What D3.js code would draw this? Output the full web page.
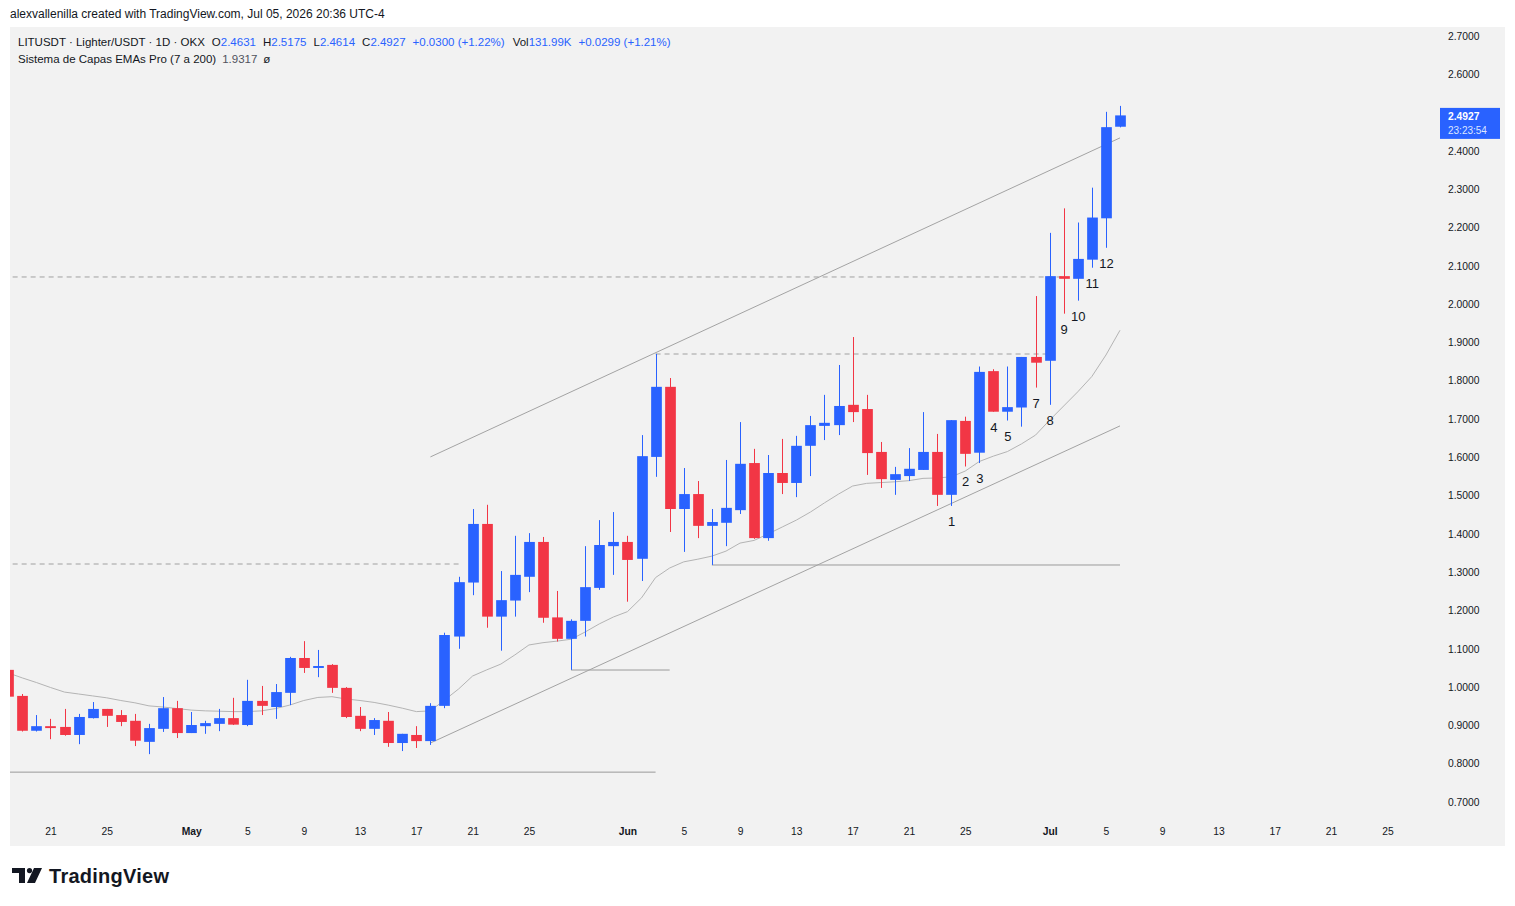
<!DOCTYPE html>
<html>

<head>
    <title>LITUSDT 1D</title>
    <script src="https://d3js.org/d3.v7.min.js"></script>
    <style>
        body { margin: 0; background: #ffffff; }
        text { font-family: 'Liberation Sans', Arial, sans-serif; }
    </style>
</head>

<body>
    <svg width="1515" height="906" id="mainsvg"></svg>
    <script>
        // daily candles, Apr 18 .. Jul 6 2026
        const dates = [
            '2026-04-18', '2026-04-19', '2026-04-20', '2026-04-21', '2026-04-22', '2026-04-23', '2026-04-24',
            '2026-04-25', '2026-04-26', '2026-04-27', '2026-04-28', '2026-04-29', '2026-04-30',
            '2026-05-01', '2026-05-02', '2026-05-03', '2026-05-04', '2026-05-05', '2026-05-06', '2026-05-07',
            '2026-05-08', '2026-05-09', '2026-05-10', '2026-05-11', '2026-05-12', '2026-05-13', '2026-05-14',
            '2026-05-15', '2026-05-16', '2026-05-17', '2026-05-18', '2026-05-19', '2026-05-20', '2026-05-21',
            '2026-05-22', '2026-05-23', '2026-05-24', '2026-05-25', '2026-05-26', '2026-05-27', '2026-05-28',
            '2026-05-29', '2026-05-30', '2026-05-31',
            '2026-06-01', '2026-06-02', '2026-06-03', '2026-06-04', '2026-06-05', '2026-06-06', '2026-06-07',
            '2026-06-08', '2026-06-09', '2026-06-10', '2026-06-11', '2026-06-12', '2026-06-13', '2026-06-14',
            '2026-06-15', '2026-06-16', '2026-06-17', '2026-06-18', '2026-06-19', '2026-06-20', '2026-06-21',
            '2026-06-22', '2026-06-23', '2026-06-24', '2026-06-25', '2026-06-26', '2026-06-27', '2026-06-28',
            '2026-06-29', '2026-06-30',
            '2026-07-01', '2026-07-02', '2026-07-03', '2026-07-04', '2026-07-05', '2026-07-06'
        ];
        const open = [
            1.045, 0.977, 0.886, 0.898, 0.896, 0.875, 0.919, 0.943, 0.927, 0.912, 0.857, 0.891, 0.945,
            0.880, 0.898, 0.904, 0.919, 0.901, 0.964, 0.948, 0.985, 1.076, 1.050, 1.058, 0.998, 0.925, 0.891,
            0.912, 0.854, 0.875, 0.859, 0.951, 1.132, 1.273, 1.426, 1.184, 1.226, 1.288, 1.379, 1.182, 1.126,
            1.173, 1.259, 1.368,
            1.379, 1.335, 1.601, 1.784, 1.465, 1.504, 1.421, 1.429, 1.462, 1.585, 1.389, 1.559, 1.533, 1.630,
            1.682, 1.684, 1.737, 1.726, 1.614, 1.541, 1.551, 1.567, 1.614, 1.502, 1.695, 1.612, 1.825, 1.719,
            1.730, 1.862,
            1.852, 2.073, 2.066, 2.116, 2.224, 2.4631
        ];
        const high = [
            1.060, 0.982, 0.927, 0.917, 0.943, 0.930, 0.961, 0.943, 0.940, 0.930, 0.904, 0.974, 0.964,
            0.935, 0.912, 0.943, 0.972, 1.019, 1.003, 1.008, 1.079, 1.120, 1.097, 1.060, 1.000, 0.948, 0.919,
            0.935, 0.878, 0.898, 0.958, 1.142, 1.288, 1.465, 1.476, 1.303, 1.395, 1.402, 1.392, 1.251, 1.177,
            1.368, 1.436, 1.457,
            1.395, 1.658, 1.870, 1.807, 1.572, 1.538, 1.465, 1.593, 1.692, 1.622, 1.606, 1.648, 1.656, 1.708,
            1.763, 1.841, 1.914, 1.763, 1.640, 1.575, 1.624, 1.718, 1.661, 1.697, 1.706, 1.837, 1.830, 1.837,
            1.862, 2.021,
            2.186, 2.250, 2.213, 2.304, 2.502, 2.5175
        ];
        const low = [
            0.960, 0.884, 0.884, 0.864, 0.873, 0.851, 0.918, 0.896, 0.898, 0.846, 0.825, 0.883, 0.867,
            0.880, 0.878, 0.885, 0.901, 0.898, 0.927, 0.917, 0.953, 1.037, 1.026, 0.985, 0.919, 0.885, 0.875,
            0.844, 0.833, 0.841, 0.849, 0.945, 1.100, 1.240, 1.155, 1.095, 1.184, 1.248, 1.168, 1.119, 1.045,
            1.132, 1.254, 1.293,
            1.223, 1.277, 1.549, 1.405, 1.353, 1.389, 1.319, 1.368, 1.452, 1.387, 1.382, 1.504, 1.496, 1.551,
            1.645, 1.658, 1.692, 1.554, 1.520, 1.502, 1.538, 1.567, 1.473, 1.473, 1.576, 1.585, 1.719, 1.696,
            1.680, 1.782,
            1.737, 1.975, 2.009, 2.095, 2.147, 2.4614
        ];
        const close = [
            0.975, 0.886, 0.898, 0.893, 0.875, 0.922, 0.943, 0.925, 0.909, 0.860, 0.893, 0.945, 0.880,
            0.901, 0.906, 0.919, 0.902, 0.964, 0.951, 0.987, 1.076, 1.050, 1.055, 0.998, 0.922, 0.891, 0.914,
            0.854, 0.878, 0.859, 0.951, 1.136, 1.274, 1.426, 1.184, 1.227, 1.293, 1.379, 1.181, 1.126, 1.173,
            1.261, 1.371, 1.379,
            1.332, 1.603, 1.784, 1.465, 1.504, 1.421, 1.431, 1.468, 1.583, 1.389, 1.559, 1.533, 1.630, 1.684,
            1.690, 1.734, 1.718, 1.611, 1.543, 1.556, 1.570, 1.614, 1.502, 1.697, 1.609, 1.823, 1.719, 1.731,
            1.862, 1.847,
            2.073, 2.066, 2.118, 2.226, 2.462, 2.4927
        ];
        // "Sistema de Capas EMAs Pro" line
        const ema = [
            1.037, 1.024, 1.012, 0.999, 0.987, 0.982, 0.977, 0.972, 0.965, 0.959, 0.951, 0.948, 0.944,
            0.940, 0.938, 0.937, 0.936, 0.936, 0.938, 0.944, 0.953, 0.965, 0.973, 0.975, 0.969, 0.965, 0.960,
            0.953, 0.945, 0.936, 0.938, 0.966, 0.995, 1.029, 1.045, 1.060, 1.084, 1.110, 1.116, 1.120, 1.125,
            1.144, 1.165, 1.183,
            1.197, 1.233, 1.286, 1.311, 1.327, 1.334, 1.342, 1.355, 1.376, 1.383, 1.400, 1.418, 1.436, 1.457,
            1.481, 1.504, 1.525, 1.532, 1.534, 1.536, 1.539, 1.545, 1.546, 1.549, 1.564, 1.589, 1.603, 1.615,
            1.635, 1.658,
            1.697, 1.734, 1.771, 1.811, 1.867, 1.9317
        ];

        // drawings
        const channelUpper = [['2026-05-18', 1.601], ['2026-07-06', 2.434]];
        const channelLower = [['2026-05-18', 0.854], ['2026-07-06', 1.682]];
        const solidLevels = [
            { from: '2026-04-10', to: '2026-06-03', price: 0.778 },
            { from: '2026-05-28', to: '2026-06-04', price: 1.0446 },
            { from: '2026-06-07', to: '2026-07-06', price: 1.3188 }
        ];
        const dashedLevels = [
            { from: '2026-04-10', to: '2026-05-20', price: 1.3214 },
            { from: '2026-06-03', to: '2026-07-01', price: 1.8697 },
            { from: '2026-04-10', to: '2026-07-02', price: 2.0708 }
        ];
        const waveLabels = ['1', '2', '3', '4', '5', '7', '8', '9', '10', '11', '12'];
        const waveDates = ['2026-06-24', '2026-06-25', '2026-06-26', '2026-06-27', '2026-06-28', '2026-06-30',
            '2026-07-01', '2026-07-02', '2026-07-03', '2026-07-04', '2026-07-05'];

        const timeTicks = ['2026-04-21', '2026-04-25', '2026-05-01', '2026-05-05', '2026-05-09', '2026-05-13',
            '2026-05-17', '2026-05-21', '2026-05-25', '2026-06-01', '2026-06-05', '2026-06-09', '2026-06-13',
            '2026-06-17', '2026-06-21', '2026-06-25', '2026-07-01', '2026-07-05', '2026-07-09', '2026-07-13',
            '2026-07-17', '2026-07-21', '2026-07-25'];

        const lastPrice = 2.4927, countdown = '23:23:54';

        const blue = '#2962ff', red = '#f23645', ink = '#131722';
        const parse = d3.utcParse('%Y-%m-%d');

        let svg = d3.select('#mainsvg');
        const panel = { left: 10, top: 27, right: 1505, bottom: 846 };
        const plot = { left: 10, right: 1425, top: 27, bottom: 815 };

        const x = d3.scaleUtc()
            .domain([parse('2026-04-19'), parse('2026-07-06')])
            .range([22.3, 1120]);
        const y = d3.scaleLinear()
            .domain([0.7, 2.7])
            .range([802, 36]);
        const step = x(parse('2026-04-20')) - x(parse('2026-04-19'));
        const bodyW = step * 0.76;

        const candles = dates.map((d, i) => ({
            date: parse(d), o: open[i], h: high[i], l: low[i], c: close[i], e: ema[i]
        }));

        // background panel
        svg.append('rect')
            .attr('x', panel.left).attr('y', panel.top)
            .attr('width', panel.right - panel.left).attr('height', panel.bottom - panel.top)
            .attr('fill', '#f2f2f2');

        svg.append('text')
            .attr('x', 10).attr('y', 18)
            .attr('font-size', 12).attr('fill', ink)
            .text('alexvallenilla created with TradingView.com, Jul 05, 2026 20:36 UTC-4');

        svg.append('clipPath').attr('id', 'plotclip')
            .append('rect')
            .attr('x', plot.left).attr('y', plot.top)
            .attr('width', plot.right - plot.left).attr('height', plot.bottom - plot.top);

        const g = svg.append('g').attr('clip-path', 'url(#plotclip)');

        // horizontal levels
        g.selectAll('line.solid').data(solidLevels)
            .enter().append('line')
            .attr('class', 'solid')
            .attr('x1', d => x(parse(d.from))).attr('x2', d => x(parse(d.to)))
            .attr('y1', d => y(d.price)).attr('y2', d => y(d.price))
            .attr('stroke', '#9a9a9a').attr('stroke-width', 1);

        g.selectAll('line.dashed').data(dashedLevels)
            .enter().append('line')
            .attr('class', 'dashed')
            .attr('x1', d => x(parse(d.from))).attr('x2', d => x(parse(d.to)))
            .attr('y1', d => y(d.price)).attr('y2', d => y(d.price))
            .attr('stroke', '#a0a0a0').attr('stroke-width', 1)
            .attr('stroke-dasharray', '5,4');

        // channel
        g.selectAll('line.channel').data([channelUpper, channelLower])
            .enter().append('line')
            .attr('class', 'channel')
            .attr('x1', d => x(parse(d[0][0]))).attr('y1', d => y(d[0][1]))
            .attr('x2', d => x(parse(d[1][0]))).attr('y2', d => y(d[1][1]))
            .attr('stroke', '#a3a3a3').attr('stroke-width', 1);

        // ema line
        const emaLine = d3.line()
            .x(d => x(d.date))
            .y(d => y(d.e));
        g.append('path')
            .datum(candles)
            .attr('d', emaLine)
            .attr('fill', 'none')
            .attr('stroke', '#b4b4b4')
            .attr('stroke-width', 1);

        // candles
        const cg = g.selectAll('g.candle').data(candles)
            .enter().append('g')
            .attr('class', 'candle');
        cg.append('line')
            .attr('x1', d => Math.round(x(d.date)) + 0.5).attr('x2', d => Math.round(x(d.date)) + 0.5)
            .attr('y1', d => y(d.h)).attr('y2', d => y(d.l))
            .attr('stroke', d => d.c >= d.o ? blue : red)
            .attr('stroke-width', 1);
        cg.append('rect')
            .attr('x', d => Math.round(x(d.date)) + 0.5 - bodyW / 2)
            .attr('width', bodyW)
            .attr('y', d => y(Math.max(d.o, d.c)))
            .attr('height', d => Math.max(1.5, Math.abs(y(d.o) - y(d.c))))
            .attr('fill', d => d.c >= d.o ? blue : red);

        // wave count labels under the lows
        const byDate = new Map(candles.map(d => [+d.date, d]));
        g.selectAll('text.wave').data(waveLabels)
            .enter().append('text')
            .attr('class', 'wave')
            .attr('x', (d, i) => x(parse(waveDates[i])) + 0.5)
            .attr('y', (d, i) => y(byDate.get(+parse(waveDates[i])).l) + 20)
            .attr('text-anchor', 'middle')
            .attr('font-family', 'DejaVu Sans')
            .attr('font-size', 13)
            .attr('fill', ink)
            .text(d => d);

        // price axis (the tick hidden under the last-price tag is left out)
        const tagY = y(lastPrice);
        const yAxis = d3.axisRight(y)
            .tickValues(y.ticks(20).filter(t => Math.abs(y(t) - tagY) > 12))
            .tickSize(0)
            .tickPadding(8)
            .tickFormat(d3.format('.4f'));
        const ya = svg.append('g')
            .attr('transform', 'translate(1440,0)')
            .call(yAxis);
        ya.select('.domain').remove();
        ya.selectAll('text')
            .attr('font-family', 'DejaVu Sans')
            .attr('font-size', 10.3)
            .attr('fill', ink);

        // last price tag
        svg.append('rect')
            .attr('x', 1440).attr('y', tagY - 7.5)
            .attr('width', 60).attr('height', 31)
            .attr('fill', blue);
        svg.append('text')
            .attr('x', 1448).attr('y', tagY + 4.5)
            .attr('font-family', 'DejaVu Sans').attr('font-size', 10.3).attr('font-weight', 'bold')
            .attr('fill', '#ffffff')
            .text(d3.format('.4f')(lastPrice));
        svg.append('text')
            .attr('x', 1448).attr('y', tagY + 19)
            .attr('font-family', 'DejaVu Sans').attr('font-size', 10)
            .attr('fill', '#dde6ff')
            .text(countdown);

        // time axis
        const monthName = d3.utcFormat('%b');
        const xAxis = d3.axisBottom(x)
            .tickValues(timeTicks.map(parse))
            .tickSize(0)
            .tickPadding(9)
            .tickFormat(d => d.getUTCDate() === 1 ? monthName(d) : d.getUTCDate());
        const xa = svg.append('g')
            .attr('transform', 'translate(0,819)')
            .call(xAxis);
        xa.select('.domain').remove();
        xa.selectAll('text')
            .attr('font-family', 'DejaVu Sans')
            .attr('font-size', 10.3)
            .attr('fill', ink)
            .attr('font-weight', d => d.getUTCDate() === 1 ? 'bold' : 'normal');

        // legend lines
        const leg = svg.append('text')
            .attr('x', 18).attr('y', 46)
            .attr('font-size', 11.5).attr('fill', ink);
        leg.append('tspan').text('LITUSDT · Lighter/USDT · 1D · OKX');
        const ohlc = [['O', open[open.length - 1]], ['H', high[high.length - 1]],
        ['L', low[low.length - 1]], ['C', close[close.length - 1]]];
        ohlc.forEach(([k, v]) => {
            leg.append('tspan').attr('dx', 7).text(k);
            leg.append('tspan').attr('fill', blue).text(d3.format('.4f')(v));
        });
        leg.append('tspan').attr('dx', 7).attr('fill', blue).text('+0.0300 (+1.22%)');
        leg.append('tspan').attr('dx', 8).text('Vol');
        leg.append('tspan').attr('fill', blue).text('131.99K');
        leg.append('tspan').attr('dx', 7).attr('fill', blue).text('+0.0299 (+1.21%)');

        const leg2 = svg.append('text')
            .attr('x', 18).attr('y', 63)
            .attr('font-size', 11.5).attr('fill', ink);
        leg2.append('tspan').text('Sistema de Capas EMAs Pro (7 a 200)');
        leg2.append('tspan').attr('dx', 6).attr('fill', '#50535e').text(d3.format('.4f')(ema[ema.length - 1]));
        leg2.append('tspan').attr('dx', 6).text('ø');

        // TradingView mark
        const logo = svg.append('g').attr('transform', 'translate(12,868)');
        logo.append('path')
            .attr('d', 'M0,0 H13 V15 H7 V5 H0 Z')
            .attr('fill', ink);
        logo.append('circle').attr('cx', 17.5).attr('cy', 2.6).attr('r', 2.6).attr('fill', ink);
        logo.append('path')
            .attr('d', 'M22,0 H30 L23,15 H15 Z')
            .attr('fill', ink);
        svg.append('text')
            .attr('x', 49).attr('y', 883)
            .attr('font-size', 20).attr('font-weight', 'bold')
            .attr('fill', ink)
            .attr('textLength', 120)
            .text('TradingView');
    </script>
</body>

</html>
